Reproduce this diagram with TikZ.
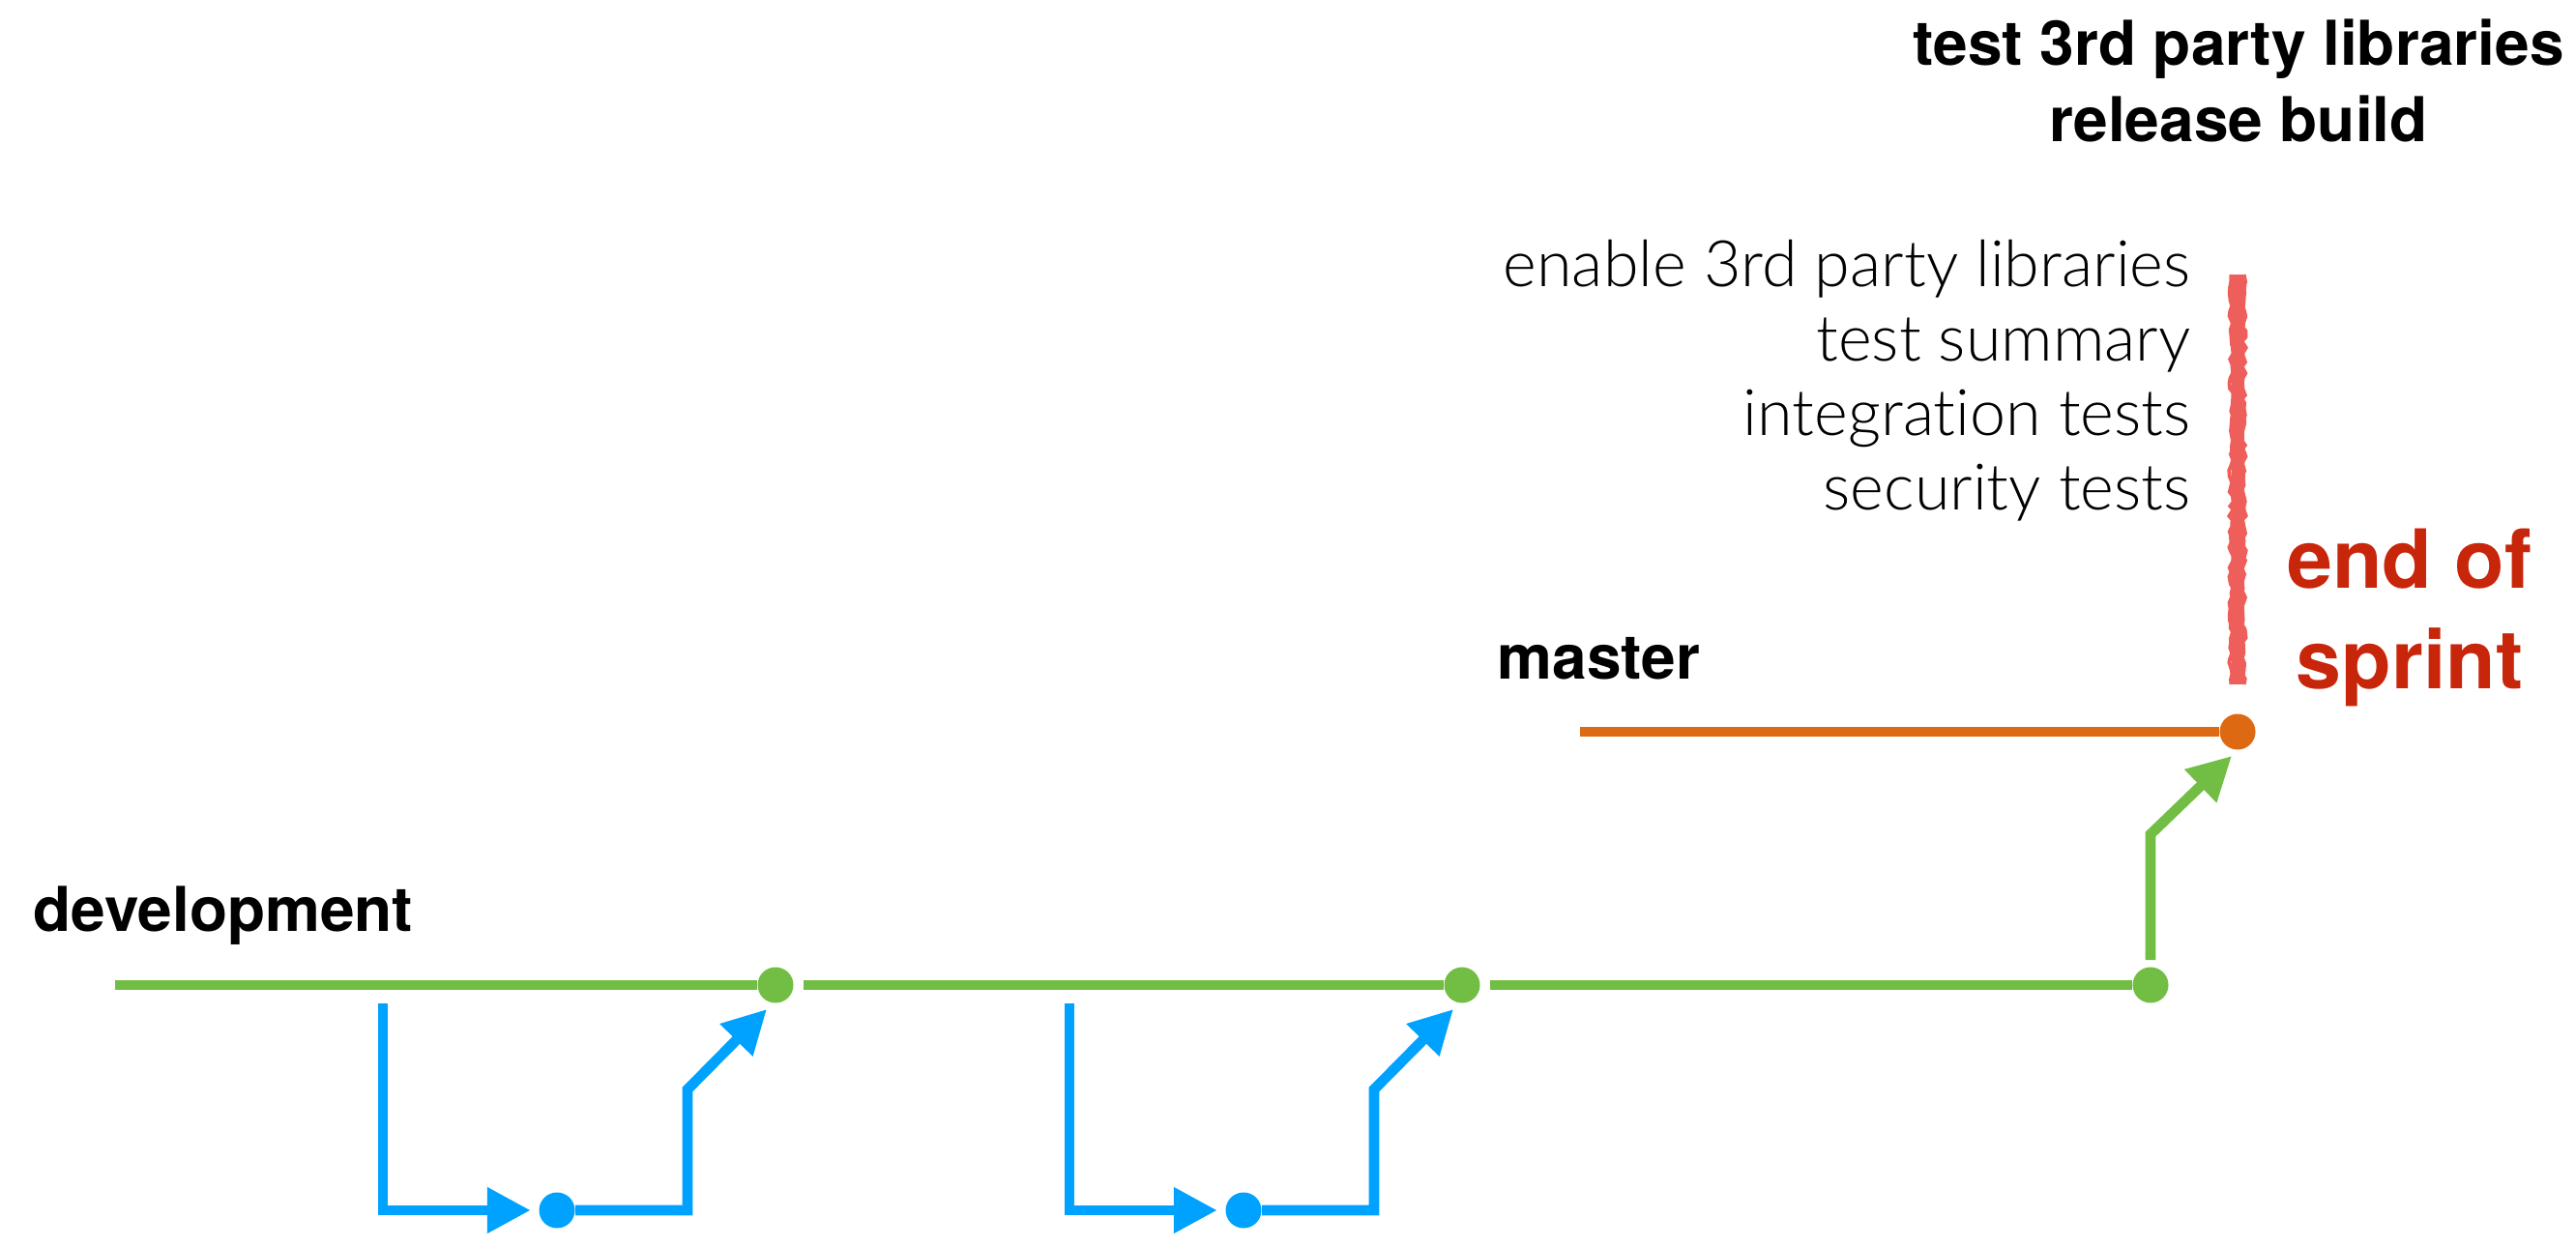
\documentclass[tikz,border=0pt]{standalone}
\usepackage{fontspec}
\setmainfont{TeX Gyre Heros}
\newfontfamily\lightfont[Ligatures=NoCommon]{Lato Light}
\usetikzlibrary{arrows.meta,calc,decorations.pathmorphing}

\definecolor{devgreen}{RGB}{114,190,68}
\definecolor{featblue}{RGB}{0,162,255}
\definecolor{mastorange}{RGB}{221,106,19}
\definecolor{sprintred}{RGB}{200,38,11}
\definecolor{chalkred}{RGB}{238,94,90}

\begin{document}
\begin{tikzpicture}[
        commit/.style={circle, fill=#1, inner sep=0pt, minimum size=0.37cm},
        branch/.style={line width=0.107cm, draw=#1},
        tip/.style={-{Triangle[length=0.45cm, width=0.45cm]}},
        branchlabel/.style={font=\bfseries\fontsize{18.2}{21}\selectfont, inner sep=0pt},
        task/.style={font=\lightfont\fontsize{18.9}{22}\selectfont, inner sep=0pt, anchor=base east},
        sprint/.style={font=\bfseries\fontsize{24}{29}\selectfont, text=sprintred, inner sep=0pt, anchor=base},
        ]
        \useasboundingbox (0,0) rectangle (26.64,12.89);

        % Commits on development, master and the feature branches
        \foreach \i/\x in {1/8.02, 2/15.12, 3/22.24} {
            \node[commit=devgreen] (c\i) at (\x,2.70) {};
        }
        \foreach \i/\x in {1/5.76, 2/12.86} {
            \node[commit=featblue] (b\i) at (\x,0.37) {};
            \coordinate (f\i) at ({\x-1.80},2.51); % branch-off point
        }
        \node[commit=mastorange] (m1) at (23.14,5.32) {};
        \coordinate (d0) at (1.19,2.70);
        \coordinate (m0) at (16.34,5.32);

        % Development line
        \draw[branch=devgreen] (d0) -- (c1);
        \draw[branch=devgreen, shorten <=0.1cm] (c1) -- (c2);
        \draw[branch=devgreen, shorten <=0.1cm] (c2) -- (c3);

        % Master line
        \draw[branch=mastorange] (m0) -- (m1);

        % Feature branches out and back in
        \foreach \i in {1,2} {
            \draw[branch=featblue, tip, shorten >=0.08cm] (f\i) |- (b\i);
            \draw[branch=featblue, tip] (b\i) -| ($(c\i)+(-0.91,-1.08)$) -- ($(c\i)+(-0.09,-0.25)$);
        }

        % Merge into master
        \draw[branch=devgreen, tip] ($(c3)+(0,0.26)$) -- ($(c3)+(0,1.56)$) -- ($(m1)+(-0.06,-0.25)$);

        % Sprint boundary (chalk stroke)
        \pgfmathsetseed{7}
        \draw[chalkred, line width=0.13cm] (23.14,5.81) -- (23.14,10.05);
        \foreach \dx in {-0.065,0.065} {
            \draw[chalkred, line width=0.04cm, decorate,
                decoration={random steps, segment length=1.5pt, amplitude=0.6pt}]
                ({23.14+\dx},5.81) -- ({23.14+\dx},10.05);
        }

        % Labels
        \node[branchlabel, anchor=base] (lib) at (23.15,12.21) {test 3rd party libraries};
        \node[branchlabel, anchor=base] (rel) at (23.15,11.43) {release build};
        \foreach \txt [count=\i] in {enable 3rd party libraries, test summary, integration tests, security tests} {
            \node[task] (t\i) at (22.66,{9.93-0.77*(\i-1)}) {\txt};
        }
        \node[branchlabel, anchor=base west] (mlabel) at (15.48,5.87) {master};
        \node[branchlabel, anchor=base west] (dlabel) at (0.34,3.26) {development};
        \node[sprint] (eos1) at (24.92,6.81) {end of};
        \node[sprint] (eos2) at (24.92,5.77) {sprint};

    \end{tikzpicture}
\end{document}
